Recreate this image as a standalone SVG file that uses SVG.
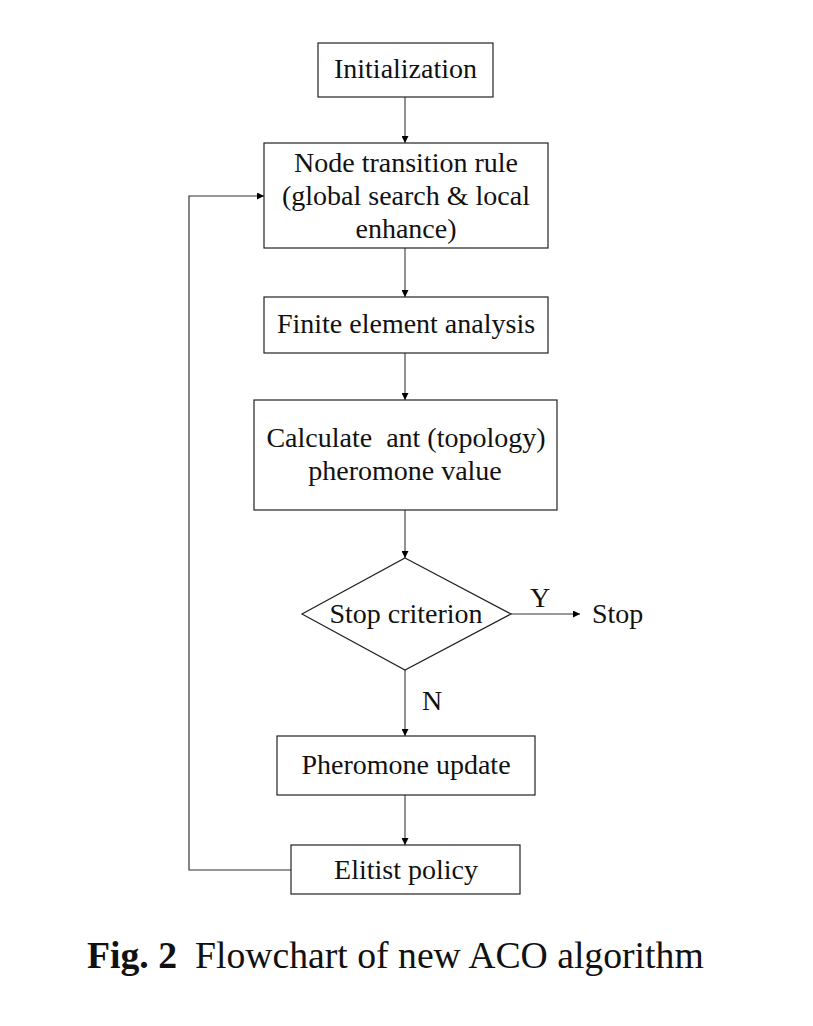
<svg xmlns="http://www.w3.org/2000/svg" width="813" height="1026" viewBox="0 0 813 1026">
<style>
.box{fill:#fff;stroke:#222;stroke-width:1.2}
.t{font-family:"Liberation Serif","Times New Roman",serif;font-size:28px;fill:#111;text-anchor:middle}
.lbl{font-family:"Liberation Serif","Times New Roman",serif;font-size:28px;fill:#111}
.c{fill:none;stroke:#777;stroke-width:1.6}
.cap{font-family:"Liberation Serif","Times New Roman",serif;font-size:37.7px;fill:#111}
</style>
<defs>
<marker id="ah" viewBox="0 0 10 10" refX="10" refY="5" markerWidth="7" markerHeight="7" markerUnits="userSpaceOnUse" orient="auto"><path d="M0,0L10,5L0,10z" fill="#000"/></marker>
</defs>
<rect width="813" height="1026" fill="#fff"/>
<g id="connectors">
<line class="c" x1="405" y1="97" x2="405" y2="143" marker-end="url(#ah)"/>
<line class="c" x1="405" y1="248" x2="405" y2="297" marker-end="url(#ah)"/>
<line class="c" x1="405" y1="353" x2="405" y2="400" marker-end="url(#ah)"/>
<line class="c" x1="405" y1="510" x2="405" y2="558" marker-end="url(#ah)"/>
<line class="c" x1="511" y1="614" x2="580" y2="614" marker-end="url(#ah)"/>
<line class="c" x1="405" y1="670" x2="405" y2="736" marker-end="url(#ah)"/>
<line class="c" x1="405" y1="795" x2="405" y2="845" marker-end="url(#ah)"/>
<polyline style="fill:none;stroke:#333;stroke-width:1.2" points="291,870 189,870 189,196 264,196" marker-end="url(#ah)"/>
<text class="lbl" x="530" y="607">Y</text>
<text class="lbl" x="422" y="710">N</text>
</g>
<g id="init"><rect class="box" x="318" y="43" width="175" height="54"/><text class="t" x="405.5" y="78">Initialization</text></g>
<g id="transition"><rect class="box" x="264" y="143" width="284" height="105"/>
<text class="t" x="406" y="172">Node transition rule</text>
<text class="t" x="406" y="205">(global search &amp; local</text>
<text class="t" x="406" y="238">enhance)</text></g>
<g id="fea"><rect class="box" x="264" y="297" width="284" height="56"/><text class="t" x="406" y="333">Finite element analysis</text></g>
<g id="calc"><rect class="box" x="254" y="400" width="303" height="110"/>
<text class="t" x="406" y="447" xml:space="preserve">Calculate  ant (topology)</text>
<text class="t" x="405" y="480">pheromone value</text></g>
<g id="stop-criterion"><polygon class="box" points="405,558 511,614 405,670 302,614"/><text class="t" x="406" y="623">Stop criterion</text></g>
<g id="stop"><text class="lbl" x="592" y="623">Stop</text></g>
<g id="update"><rect class="box" x="277" y="736" width="258" height="59"/><text class="t" x="406" y="774">Pheromone update</text></g>
<g id="elitist"><rect class="box" x="291" y="845" width="229" height="49"/><text class="t" x="406" y="879">Elitist policy</text></g>
<g id="caption"><text class="cap" x="87" y="968"><tspan font-weight="bold">Fig. 2</tspan><tspan x="195">Flowchart of new ACO algorithm</tspan></text></g>
</svg>
